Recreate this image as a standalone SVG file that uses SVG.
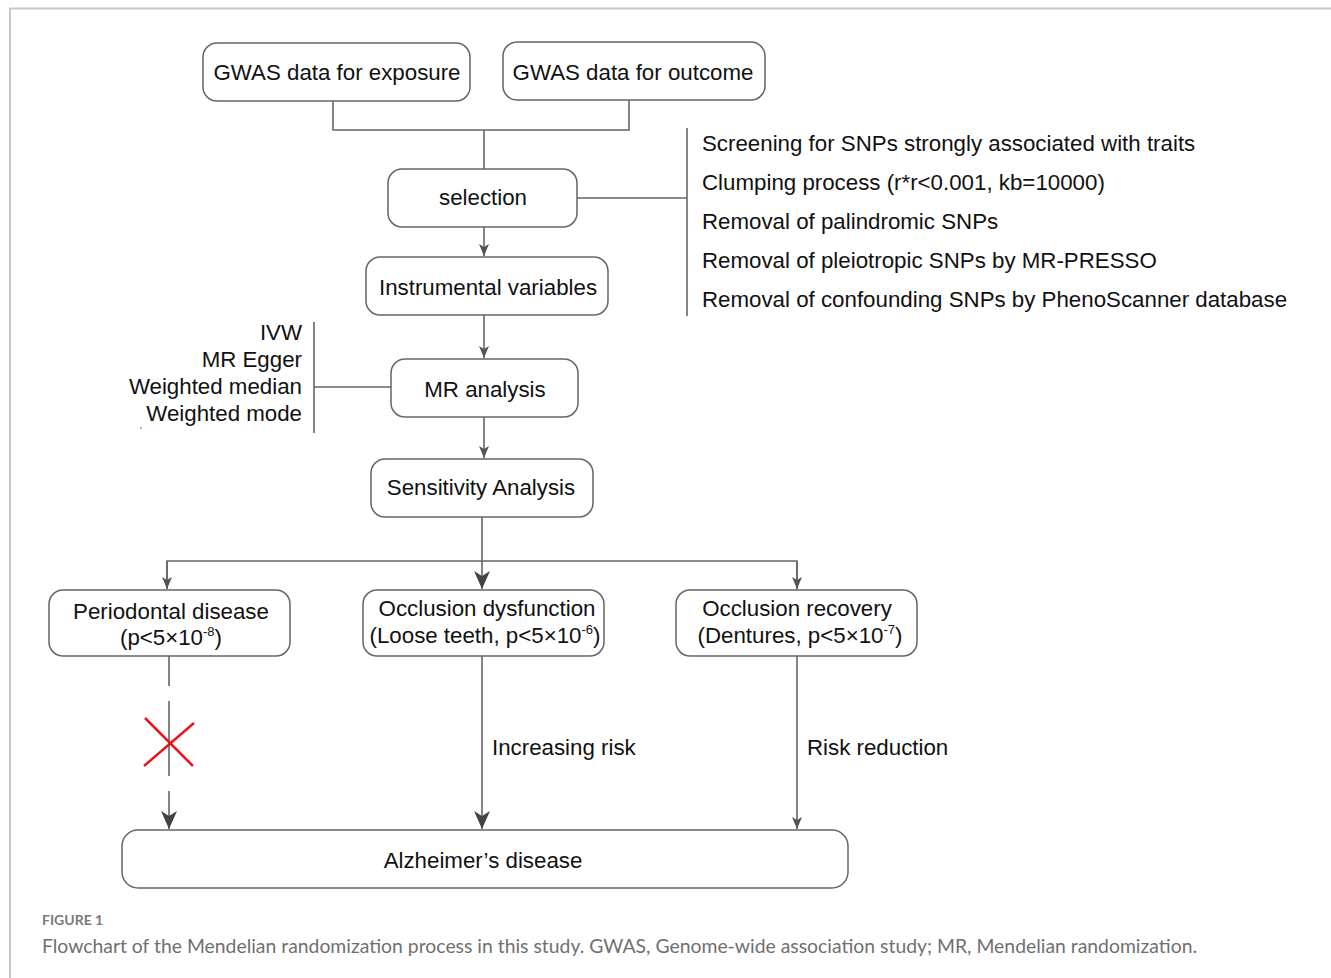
<svg xmlns="http://www.w3.org/2000/svg" width="1331" height="978" viewBox="0 0 1331 978">
<style>
.box{fill:#fff;stroke:#666;stroke-width:1.5}
.t{font-family:"Liberation Sans",Arial,sans-serif;font-size:22.3px;fill:#111}
.c{text-anchor:middle}
.r{text-anchor:end}
.ln{fill:none;stroke:#666;stroke-width:1.6}
.sup{font-size:13px}
</style>
<defs>
<marker id="a" viewBox="0 0 10 12" refX="5" refY="12" markerWidth="10" markerHeight="12" markerUnits="userSpaceOnUse" orient="0">
<path d="M0,0 L5,3 L10,0 L5,12 Z" fill="#555"/>
</marker>
<marker id="ab" viewBox="0 0 16 18" refX="8" refY="18" markerWidth="16" markerHeight="18" markerUnits="userSpaceOnUse" orient="0">
<path d="M0,0 L8,5 L16,0 L8,18 Z" fill="#444"/>
</marker>
</defs>
<rect width="1331" height="978" fill="#fff"/>
<path d="M10,978 V8.5 H1331" fill="none" stroke="#c8c8c8" stroke-width="2"/>

<g id="connectors">
<path class="ln" d="M333,101 V130 H629 V100"/>
<path class="ln" d="M484,130 V169"/>
<path class="ln" d="M484,227 V256" marker-end="url(#a)"/>
<path class="ln" d="M577,198 H687"/>
<path class="ln" d="M687,128 V316"/>
<path class="ln" d="M484,315 V358" marker-end="url(#a)"/>
<path class="ln" d="M391,387 H314"/>
<path class="ln" d="M314,322 V433"/>
<path class="ln" d="M484,417 V458" marker-end="url(#a)"/>
<path class="ln" d="M482,517 V589" marker-end="url(#ab)"/>
<path class="ln" d="M167,589 V561 H797 V589"/>
<path class="ln" d="M167,561 V589" marker-end="url(#a)"/>
<path class="ln" d="M797,561 V589" marker-end="url(#a)"/>
<path class="ln" d="M169,656 V812" stroke-dasharray="30 15 75 15 30"/>
<path class="ln" d="M169,812 V829" marker-end="url(#ab)"/>
<path class="ln" d="M482,656 V829" marker-end="url(#ab)"/>
<path class="ln" d="M797,656 V829" marker-end="url(#a)"/>
<g stroke="#e8141c" stroke-width="2.5" fill="none">
<path d="M145,718 L193,766"/>
<path d="M144,766 L194,723"/>
</g>
<text class="t" x="492" y="755">Increasing risk</text>
<text class="t" x="807" y="755">Risk reduction</text>
</g>

<g id="n-exposure"><rect class="box" x="203" y="43" width="267" height="58" rx="14"/><text class="t c" x="337" y="80">GWAS data for exposure</text></g>
<g id="n-outcome"><rect class="box" x="503" y="42" width="262" height="58" rx="14"/><text class="t c" x="633" y="80">GWAS data for outcome</text></g>
<g id="n-selection"><rect class="box" x="388" y="169" width="189" height="58" rx="14"/><text class="t c" x="483" y="205">selection</text></g>
<g id="n-iv"><rect class="box" x="366" y="257" width="242" height="58" rx="14"/><text class="t c" x="488" y="295">Instrumental variables</text></g>
<g id="n-mr"><rect class="box" x="391" y="359" width="187" height="58" rx="14"/><text class="t c" x="485" y="397">MR analysis</text></g>
<g id="n-sens"><rect class="box" x="371" y="459" width="222" height="58" rx="14"/><text class="t c" x="481" y="495">Sensitivity Analysis</text></g>
<g id="n-perio"><rect class="box" x="49" y="590" width="241" height="66" rx="14"/>
<text class="t c" x="171" y="619">Periodontal disease</text>
<text class="t c" x="171" y="645">(p&lt;5×10<tspan class="sup" dy="-9">-8</tspan><tspan dy="9">)</tspan></text></g>
<g id="n-dys"><rect class="box" x="363" y="590" width="241" height="66" rx="14"/>
<text class="t c" x="487" y="616">Occlusion dysfunction</text>
<text class="t c" x="485" y="643">(Loose teeth, p&lt;5×10<tspan class="sup" dy="-9">-6</tspan><tspan dy="9">)</tspan></text></g>
<g id="n-rec"><rect class="box" x="676" y="590" width="241" height="66" rx="14"/>
<text class="t c" x="797" y="616">Occlusion recovery</text>
<text class="t c" x="800" y="643">(Dentures, p&lt;5×10<tspan class="sup" dy="-9">-7</tspan><tspan dy="9">)</tspan></text></g>
<g id="n-ad"><rect class="box" x="122" y="830" width="726" height="58" rx="16"/><text class="t c" x="483" y="868">Alzheimer’s disease</text></g>

<g id="n-criteria">
<text class="t" x="702" y="151">Screening for SNPs strongly associated with traits</text>
<text class="t" x="702" y="190">Clumping process (r*r&lt;0.001, kb=10000)</text>
<text class="t" x="702" y="229">Removal of palindromic SNPs</text>
<text class="t" x="702" y="268">Removal of pleiotropic SNPs by MR-PRESSO</text>
<text class="t" x="702" y="307">Removal of confounding SNPs by PhenoScanner database</text>
</g>
<g id="n-methods">
<text class="t r" x="302" y="340">IVW</text>
<text class="t r" x="302" y="367">MR Egger</text>
<text class="t r" x="302" y="394">Weighted median</text>
<text class="t r" x="302" y="421">Weighted mode</text>
</g>
<rect x="140" y="427" width="2" height="2" fill="#7cc4f0"/>

<g id="caption">
<text x="42" y="925" font-family="Lato,'Open Sans',sans-serif" font-size="14" font-weight="bold" fill="#7a7a7a">FIGURE 1</text>
<text x="42" y="953" font-family="Lato,'Open Sans',sans-serif" font-size="19" fill="#707070" textLength="1155" lengthAdjust="spacingAndGlyphs">Flowchart of the Mendelian randomization process in this study. GWAS, Genome-wide association study; MR, Mendelian randomization.</text>
</g>
</svg>
